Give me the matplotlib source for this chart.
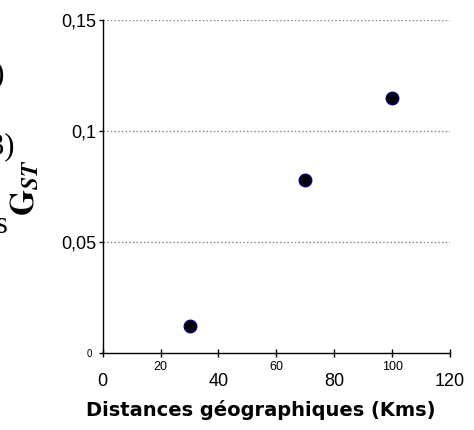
import matplotlib
matplotlib.use("Agg")
import matplotlib.pyplot as plt

# distances (km) vs G_ST
distances = [30, 70, 100]
gst = [0.012, 0.078, 0.115]

x_major = [0, 40, 80, 120]
x_minor = [20, 60, 100]
y_major = [0.05, 0.1, 0.15]
y_major_labels = ["0,05", "0,1", "0,15"]

plt.rcParams['mathtext.fontset'] = 'stix'

fig = plt.figure(figsize=(4.74, 4.30), dpi=100)
ax = fig.add_axes([0.2167, 0.179, 0.9494 - 0.2167, 0.9535 - 0.179])

ax.plot(distances, gst, linestyle='none', marker='o', markersize=9,
        markerfacecolor='black', markeredgecolor='#000080', markeredgewidth=1,
        clip_on=False, zorder=3)

ax.set_xlim(0, 120)
ax.set_ylim(0, 0.15)

ax.set_xticks(x_major)
ax.set_xticklabels([str(v) for v in x_major], fontfamily='Liberation Sans')
ax.set_xticks(x_minor, minor=True)
ax.set_xticklabels([str(v) for v in x_minor], minor=True, fontfamily='Liberation Sans')

ax.set_yticks(y_major)
ax.set_yticklabels(y_major_labels, fontfamily='Liberation Sans')
ax.set_yticks([0], minor=True)
ax.set_yticklabels(["0"], minor=True, fontfamily='Liberation Sans')

ax.tick_params(axis='x', which='both', direction='inout', length=6, width=1, color='black')
ax.tick_params(axis='x', which='major', labelsize=13, pad=11.5)
ax.tick_params(axis='x', which='minor', labelsize=9, pad=3)
ax.tick_params(axis='y', which='both', direction='out', length=3, width=1, color='black')
ax.tick_params(axis='y', which='major', labelsize=13, pad=1.5)
ax.tick_params(axis='y', which='minor', labelsize=7, pad=4.5)

ax.grid(axis='y', which='major', linestyle=':', color='#808080', linewidth=1)
ax.set_axisbelow(True)

for side in ['top', 'right']:
    ax.spines[side].set_visible(False)
for side in ['left', 'bottom']:
    ax.spines[side].set_color('black')
    ax.spines[side].set_linewidth(1)

fig.text(0.551, 0.0465, "Distances géographiques (Kms)", ha='center', va='center',
         fontsize=14, fontweight='bold', fontfamily='DejaVu Sans')

fig.text(24 / 474, 1 - 188 / 430, r'$\mathbf{G}_{\mathbfit{ST}}$', rotation=90,
         ha='center', va='center', fontsize=24)

# bits of text cut off at the left edge of the crop
fig.text(5 / 474, 1 - 75 / 430, "(1)", ha='right', va='center',
         fontsize=22, fontfamily='Liberation Serif')
fig.text(15 / 474, 1 - 147 / 430, "(3)", ha='right', va='center',
         fontsize=22, fontfamily='Liberation Serif')
fig.text(8 / 474, 1 - 225 / 430, "s", ha='right', va='center',
         fontsize=22, fontfamily='Liberation Serif')

fig.savefig("out.png", dpi=100)
